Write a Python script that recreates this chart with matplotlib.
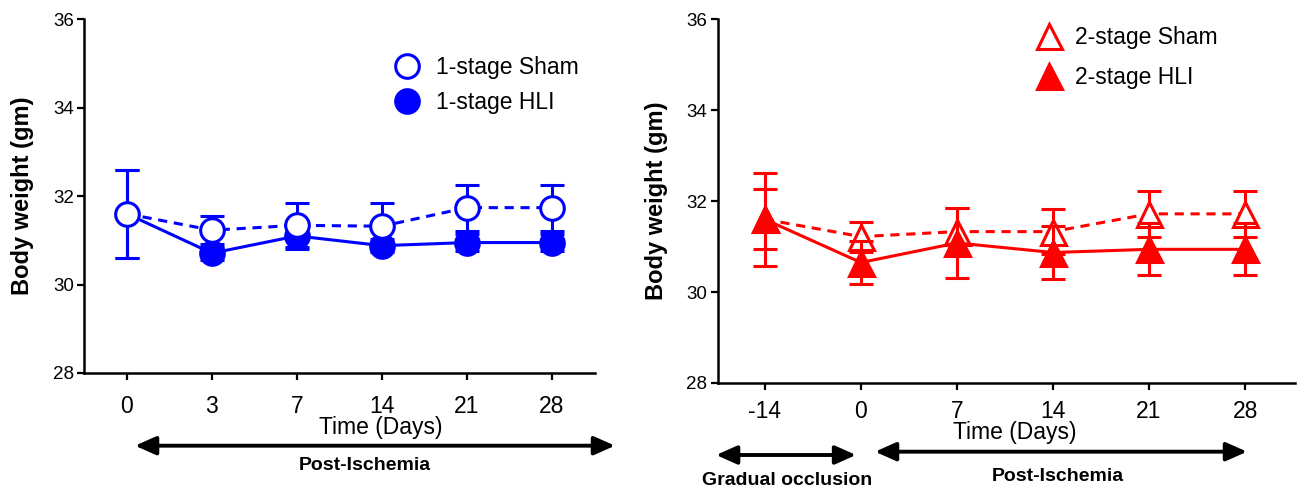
import matplotlib
matplotlib.use("Agg")
import matplotlib.pyplot as plt
from matplotlib.lines import Line2D
from matplotlib.patches import FancyArrowPatch
from matplotlib import font_manager as fm

# ---------------- data ----------------
days_1 = ["0", "3", "7", "14", "21", "28"]
sham1_mean = [31.60, 31.23, 31.34, 31.32, 31.74, 31.74]
sham1_err = [1.00, 0.32, 0.50, 0.52, 0.52, 0.52]
hli1_mean = [31.60, 30.71, 31.10, 30.88, 30.95, 30.95]
hli1_err = [1.00, 0.15, 0.30, 0.15, 0.20, 0.20]

days_2 = ["-14", "0", "7", "14", "21", "28"]
sham2_mean = [31.60, 31.22, 31.33, 31.33, 31.72, 31.72]
sham2_err = [0.66, 0.33, 0.52, 0.50, 0.51, 0.51]
hli2_mean = [31.60, 30.65, 31.08, 30.87, 30.94, 30.94]
hli2_err = [1.02, 0.48, 0.76, 0.59, 0.57, 0.57]

y_ticks = [28, 30, 32, 34, 36]

# ---------------- fonts ----------------
avail = {f.name for f in fm.fontManager.ttflist}
narrow = "Liberation Sans Narrow" if "Liberation Sans Narrow" in avail else "Liberation Sans"
plt.rcParams["font.family"] = [narrow, "DejaVu Sans"]

BLUE = "#0000FF"
RED = "#FF0000"

fig = plt.figure(figsize=(13.01, 4.95), dpi=100)
axL = fig.add_axes([0.0648, 0.2465, 0.3925, 0.7145])
axR = fig.add_axes([0.5517, 0.2263, 0.4434, 0.7347])

LW = 2.2
MS_C = 17
MS_T = 18
MEW = 2.2
CAP = 8.5


def style_axes(ax, labels, xpad, xlim):
    for s in ["top", "right"]:
        ax.spines[s].set_visible(False)
    for s in ["left", "bottom"]:
        ax.spines[s].set_linewidth(1.8)
    ax.set_ylim(28, 36)
    ax.set_yticks(y_ticks)
    ax.set_yticklabels([str(t) for t in y_ticks], fontsize=13.5)
    ax.set_xticks(range(len(labels)))
    ax.set_xticklabels(labels, fontsize=16.5)
    ax.set_xlim(*xlim)
    ax.tick_params(axis="y", direction="out", length=5, width=1.6, pad=2.5)
    ax.tick_params(axis="x", direction="out", length=5, width=1.6, pad=xpad)
    ax.set_ylabel("Body weight (gm)", fontsize=17, fontweight="bold",
                  family=["Liberation Sans", "DejaVu Sans"])
    ax.set_xlabel("Time (Days)", fontsize=16.5)


# ---------------- left panel ----------------
xL = list(range(len(days_1)))
axL.errorbar(xL, sham1_mean, yerr=sham1_err, color=BLUE, ls=(0, (3, 2.2)), lw=LW,
             marker="o", ms=MS_C, mfc="white", mec=BLUE, mew=MEW,
             capsize=CAP, capthick=LW, elinewidth=LW, zorder=3)
axL.errorbar(xL, hli1_mean, yerr=hli1_err, color=BLUE, ls="-", lw=LW,
             marker="o", ms=MS_C, mfc=BLUE, mec=BLUE, mew=MEW, markevery=[1, 2, 3, 4, 5],
             capsize=CAP, capthick=LW, elinewidth=LW, zorder=2)
style_axes(axL, days_1, 11, (-0.502, 5.506))
axL.yaxis.set_label_coords(-0.098, 0.5)
axL.xaxis.set_label_coords(0.58, -0.1216)

hL = [Line2D([], [], ls="none", marker="o", ms=MS_C, mfc="white", mec=BLUE, mew=MEW),
      Line2D([], [], ls="none", marker="o", ms=MS_C, mfc=BLUE, mec=BLUE, mew=MEW)]
axL.legend(hL, ["1-stage Sham", "1-stage HLI"], loc="upper left",
           bbox_to_anchor=(0.610, 0.897), frameon=False, fontsize=16.5,
           handlelength=1.0, handletextpad=0.75, labelspacing=0.55,
           borderpad=0, borderaxespad=0)

# ---------------- right panel ----------------
xR = list(range(len(days_2)))
axR.errorbar(xR, sham2_mean, yerr=sham2_err, color=RED, ls=(0, (3, 2.2)), lw=LW,
             marker="^", ms=MS_T, mfc="white", mec=RED, mew=MEW,
             capsize=CAP, capthick=LW, elinewidth=LW, zorder=2)
axR.errorbar(xR, hli2_mean, yerr=hli2_err, color=RED, ls="-", lw=LW,
             marker="^", ms=MS_T, mfc=RED, mec=RED, mew=MEW,
             capsize=CAP, capthick=LW, elinewidth=LW, zorder=3)
style_axes(axR, days_2, 7, (-0.49, 5.516))
axR.yaxis.set_label_coords(-0.086, 0.5)
axR.xaxis.set_label_coords(0.514, -0.1045)

hR = [Line2D([], [], ls="none", marker="^", ms=MS_T, mfc="white", mec=RED, mew=MEW),
      Line2D([], [], ls="none", marker="^", ms=MS_T, mfc=RED, mec=RED, mew=MEW)]
axR.legend(hR, ["2-stage Sham", "2-stage HLI"], loc="upper left",
           bbox_to_anchor=(0.555, 0.981), frameon=False, fontsize=16.5,
           handlelength=1.0, handletextpad=0.6, labelspacing=0.75,
           borderpad=0, borderaxespad=0)

# ---------------- annotation arrows ----------------
arrow_kw = dict(arrowstyle="<|-|>,head_length=0.9,head_width=0.4", color="black",
                lw=2.8, shrinkA=0, shrinkB=0, mutation_scale=14)
fig.add_artist(FancyArrowPatch((0.1038, 0.0996), (0.4727, 0.0996),
                               transform=fig.transFigure, **arrow_kw))
fig.add_artist(FancyArrowPatch((0.5504, 0.0808), (0.658, 0.0808),
                               transform=fig.transFigure, **arrow_kw))
fig.add_artist(FancyArrowPatch((0.6726, 0.0875), (0.9585, 0.0875),
                               transform=fig.transFigure, **arrow_kw))

bold_kw = dict(fontsize=14, fontweight="bold", ha="center", va="center")
fig.text(0.2806, 0.0586, "Post-Ischemia", **bold_kw)
fig.text(0.6049, 0.0283, "Gradual occlusion", **bold_kw)
fig.text(0.8132, 0.0370, "Post-Ischemia", **bold_kw)

fig.savefig("out.png", dpi=100)
